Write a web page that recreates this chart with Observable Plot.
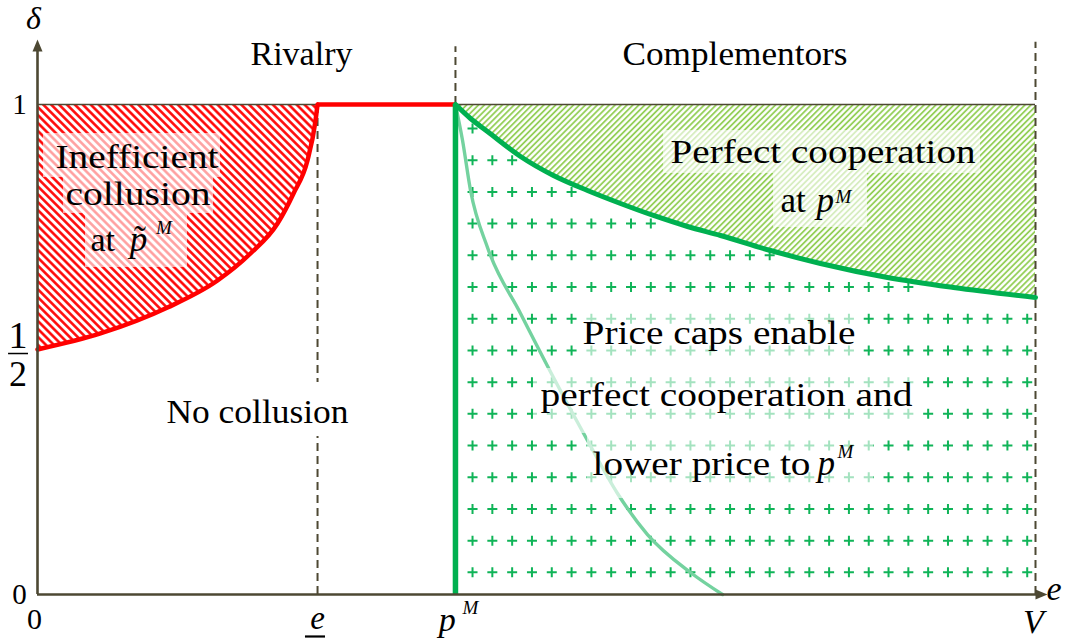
<!DOCTYPE html>
<html>
<head>
<meta charset="utf-8">
<script src="https://cdn.jsdelivr.net/npm/d3@7"></script>
<script src="https://cdn.jsdelivr.net/npm/@observablehq/plot@0.6"></script>
<style>
  body { margin: 0; background: #fff; }
  svg { display: block; }
</style>
</head>
<body>
<div id="chart"></div>
<script>
// ---- thresholds on the e axis (V normalised to 1) ----
const eLow = 0.2806;   // e (underlined)
const pM = 0.4188;     // p^M
const vMax = 1;        // V

// ---- red boundary: inefficient collusion ----
const redE = [0, 0.0631, 0.1303, 0.1804, 0.2134, 0.2405, 0.2565, 0.2705, 0.2786, 0.2806];
const redD = [0.5, 0.5327, 0.5857, 0.6408, 0.6959, 0.7571, 0.8184, 0.8857, 0.9673, 1];

// ---- green boundary: perfect cooperation at p^M ----
const coopE = [0.4188, 0.4339, 0.4509, 0.4840, 0.5170, 0.5511, 0.5842, 0.6172, 0.6513, 0.6844, 0.7345, 0.7846, 0.8517, 0.9178, 1];
const coopD = [1, 0.9714, 0.9449, 0.8939, 0.8551, 0.8245, 0.7980, 0.7735, 0.7510, 0.7327, 0.7020, 0.6755, 0.6469, 0.6265, 0.6061];

// ---- light green curve inside the price-cap region ----
const capE = [0.4188, 0.4259, 0.4339, 0.4509, 0.4840, 0.5170, 0.5511, 0.5812, 0.6112, 0.6543, 0.6864];
const capD = [1, 0.9265, 0.8245, 0.7082, 0.5735, 0.4429, 0.3143, 0.2061, 0.1224, 0.0449, 0];

// ---- tick labels ----
const yTickLabels = ["0", "1"];
const yTickValues = [0, 1];
const xTickLabels = ["0", "e", "p", "V"];
const xTickValues = [0, eLow, pM, vMax];

// ---- texts ----
const regionLabels = ["Rivalry", "Complementors", "Inefficient", "collusion",
  "Perfect cooperation", "No collusion", "Price caps enable", "perfect cooperation and"];

// ---- colours ----
const RED = "#ff0000", GREEN = "#00b050", LIGHTGREEN = "#74d29f", HATCHGREEN = "#8ccc4c";
const AXIS = "#4d4833";
const FONT = "Liberation Serif";

// plus-sign texture grid of the price-cap region (a fill pattern, not a data series)
const plusCols = d3.range(29).map(i => 0.4359 + i * 0.01985);
const plusRows = d3.range(15).map(j => 0.951 - j * 0.0647);
function coopAt(x) {
  const i = d3.bisectLeft(coopE, x);
  if (i <= 0) return coopD[0];
  if (i >= coopE.length) return coopD[coopD.length - 1];
  const t = (x - coopE[i - 1]) / (coopE[i] - coopE[i - 1]);
  return coopD[i - 1] + t * (coopD[i] - coopD[i - 1]);
}
const plusPts = [];
for (const d of plusRows) for (const e of plusCols) if (d < coopAt(e) - 0.01) plusPts.push({e, d});

const red = redE.map((e, i) => ({e, d: redD[i]}));
const coop = coopE.map((e, i) => ({e, d: coopD[i]}));
const cap = capE.map((e, i) => ({e, d: capD[i]}));

const arrowHead = {draw(ctx) { ctx.moveTo(0, -6); ctx.lineTo(5, 6); ctx.lineTo(-5, 6); ctx.closePath(); }};
const plusSym = {draw(ctx) { ctx.moveTo(-5, 0); ctx.lineTo(5, 0); ctx.moveTo(0, -5); ctx.lineTo(0, 5); }};

// label table (anchor position, fitted width)
const labels = [
  {t: regionLabels[0], x: 0.2645, y: 1.0796, w: 102},
  {t: regionLabels[1], x: 0.6989, y: 1.0796, w: 225},
  {t: regionLabels[2], x: 0.0997, y: 0.8694, w: 163},
  {t: regionLabels[3], x: 0.1007, y: 0.7939, w: 145},
  {t: regionLabels[4], x: 0.7871, y: 0.8816, w: 305},
  {t: regionLabels[5], x: 0.2204, y: 0.3490, w: 182},
  {t: regionLabels[6], x: 0.6829, y: 0.5122, w: 273},
  {t: regionLabels[7], x: 0.6904, y: 0.3857, w: 372}
];
const widthOf = new Map(labels.map(l => [l.t, l.w]));
widthOf.set("lower price to", 218);

const txt = (data, o) => Plot.text(data, {fontFamily: FONT, fill: "black", lineAnchor: "bottom", ...o});

const fade = [
  {x1: 0.006, x2: 0.1834, y1: 0.9408, y2: 0.851},
  {x1: 0.026, x2: 0.1764, y1: 0.851, y2: 0.7776},
  {x1: 0.0481, x2: 0.1503, y1: 0.7776, y2: 0.6673},
  {x1: 0.6273, x2: 0.9449, y1: 0.9469, y2: 0.8592},
  {x1: 0.7375, x2: 0.8317, y1: 0.8592, y2: 0.749},
  {x1: 0.5411, x2: 0.8226, y1: 0.5959, y2: 0.4612},
  {x1: 0.497, x2: 0.8848, y1: 0.4612, y2: 0.3286},
  {x1: 0.5511, x2: 0.8377, y1: 0.3286, y2: 0.1959}
];

function draw() {
  const plot = Plot.plot({
    width: 1067, height: 644,
    marginLeft: 37, marginRight: 32, marginTop: 104, marginBottom: 50,
    x: {domain: [0, 1], axis: null},
    y: {domain: [0, 1], axis: null},
    style: {overflow: "visible"},
    marks: [
      Plot.areaY(red, {x: "e", y1: "d", y2: () => 1, fill: "url(#hatchRed)", curve: "monotone-x"}),
      Plot.areaY(coop, {x: "e", y1: "d", y2: () => 1, fill: "url(#hatchGreen)", curve: "monotone-x"}),
      Plot.dot(plusPts, {x: "e", y: "d", symbol: plusSym, stroke: "#10b458", strokeWidth: 2, fill: "none"}),
      Plot.line(cap, {x: "e", y: "d", stroke: LIGHTGREEN, strokeWidth: 3.4, curve: "monotone-x"}),
      Plot.rect(fade, {x1: "x1", x2: "x2", y1: "y1", y2: "y2", fill: "white", fillOpacity: 0.62}),
      Plot.ruleY([1], {x1: 0, x2: vMax, stroke: AXIS, strokeWidth: 1.6}),
      Plot.ruleX([eLow], {y1: 0, y2: 1, stroke: AXIS, strokeWidth: 2, strokeDasharray: "8,5"}),
      Plot.ruleX([pM], {y1: 1, y2: 1.118, stroke: AXIS, strokeWidth: 2, strokeDasharray: "8,5"}),
      Plot.ruleX([vMax], {y1: 0, y2: 1.127, stroke: AXIS, strokeWidth: 2, strokeDasharray: "8,5"}),
      Plot.rect([0], {x1: 0.1232, x2: 0.3186, y1: 0.4327, y2: 0.3224, fill: "white"}),
      Plot.ruleY([1], {x1: eLow, x2: pM, stroke: RED, strokeWidth: 4.5}),
      Plot.line(red, {x: "e", y: "d", stroke: RED, strokeWidth: 4.5, curve: "monotone-x"}),
      Plot.ruleX([pM], {y1: 0, y2: 1, stroke: GREEN, strokeWidth: 5.5}),
      Plot.line(coop, {x: "e", y: "d", stroke: GREEN, strokeWidth: 5, curve: "monotone-x"}),
      Plot.ruleX([0], {y1: 0, y2: 1.12, stroke: AXIS, strokeWidth: 2.6}),
      Plot.ruleY([0], {x1: 0, x2: 1.006, stroke: AXIS, strokeWidth: 2.6}),
      Plot.dot([0], {x: () => 0, y: () => 1.1204, symbol: arrowHead, fill: AXIS, stroke: "none"}),
      Plot.dot([0], {x: () => 1.006, y: () => 0, symbol: arrowHead, fill: AXIS, stroke: "none", rotate: 90}),
      // region labels
      txt(labels, {x: "x", y: "y", text: "t", fontSize: 34, textAnchor: "middle"}),
      // "at p̃^M"
      txt(["at"], {x: () => 0.0531, y: () => 0.702, fontSize: 34, textAnchor: "start"}),
      txt(["p\u0303"], {x: () => 0.0925, y: () => 0.702, fontSize: 35, fontStyle: "italic", textAnchor: "start"}),
      txt(["M"], {x: () => 0.1187, y: () => 0.7367, fontSize: 19, fontStyle: "italic", textAnchor: "start"}),
      // "at p^M"
      txt(["at"], {x: () => 0.7445, y: () => 0.7796, fontSize: 35, textAnchor: "start"}),
      txt(["p"], {x: () => 0.7806, y: () => 0.7796, fontSize: 35, fontStyle: "italic", textAnchor: "start"}),
      txt(["M"], {x: () => 0.7996, y: () => 0.8, fontSize: 19, fontStyle: "italic", textAnchor: "start"}),
      // "lower price to p^M"
      txt(["lower price to"], {x: () => 0.5561, y: () => 0.2429, fontSize: 33, textAnchor: "start"}),
      txt(["p"], {x: () => 0.7816, y: () => 0.2429, fontSize: 35, fontStyle: "italic", textAnchor: "start"}),
      txt(["M"], {x: () => 0.8016, y: () => 0.2776, fontSize: 19, fontStyle: "italic", textAnchor: "start"}),
      // y tick labels
      txt(yTickValues, {x: () => -0.018, y: d => d, text: (d, i) => yTickLabels[i], fontSize: 29, textAnchor: "middle", lineAnchor: "middle"}),
      txt(["1"], {x: () => -0.0195, y: () => 0.504, fontSize: 38, textAnchor: "middle"}),
      txt(["2"], {x: () => -0.0195, y: () => 0.4265, fontSize: 36, textAnchor: "middle"}),
      Plot.ruleY([0.4918], {x1: -0.029, x2: -0.009, stroke: "black", strokeWidth: 1.5}),
      txt(["δ"], {x: () => -0.004, y: () => 1.155, fontSize: 32, fontStyle: "italic", textAnchor: "middle"}),
      // x tick labels
      txt([xTickValues[0]], {x: d => d - 0.003, y: () => -0.0694, text: () => xTickLabels[0], fontSize: 30, textAnchor: "middle"}),
      txt([xTickValues[1]], {x: d => d, y: () => -0.0694, text: () => xTickLabels[1], fontSize: 33, fontStyle: "italic", textAnchor: "middle"}),
      Plot.ruleY([-0.0857], {x1: 0.2685, x2: 0.2886, stroke: "black", strokeWidth: 2.2}),
      txt([xTickValues[2]], {x: d => d - 0.0168, y: () => -0.0735, text: () => xTickLabels[2], fontSize: 34, fontStyle: "italic", textAnchor: "start"}),
      txt(["M"], {x: () => 0.4259, y: () => -0.0408, fontSize: 19, fontStyle: "italic", textAnchor: "start"}),
      txt([xTickValues[3]], {x: d => d - 0.002, y: () => -0.0776, text: () => xTickLabels[3], fontSize: 34, fontStyle: "italic", textAnchor: "middle"}),
      txt(["e"], {x: () => 1.011, y: () => -0.0122, fontSize: 34, fontStyle: "italic", textAnchor: "start"})
    ]
  });

  // hatch patterns
  const defs = d3.select(plot).insert("defs", ":first-child");
  const pr = defs.append("pattern").attr("id", "hatchRed").attr("patternUnits", "userSpaceOnUse")
    .attr("width", 5.6).attr("height", 5.6).attr("patternTransform", "rotate(-45)");
  pr.append("rect").attr("width", 5.6).attr("height", 5.6).attr("fill", "white");
  pr.append("line").attr("x1", 1.4).attr("x2", 1.4).attr("y1", -1).attr("y2", 7).attr("stroke", RED).attr("stroke-width", 2.5);
  const pg = defs.append("pattern").attr("id", "hatchGreen").attr("patternUnits", "userSpaceOnUse")
    .attr("width", 4.2).attr("height", 4.2).attr("patternTransform", "rotate(45)");
  pg.append("rect").attr("width", 4.2).attr("height", 4.2).attr("fill", "white");
  pg.append("line").attr("x1", 1).attr("x2", 1).attr("y1", -1).attr("y2", 6).attr("stroke", HATCHGREEN).attr("stroke-width", 1.7);

  const host = document.getElementById("chart");
  host.replaceChildren(plot);

  // stretch labels horizontally to the reference widths (keeps real text)
  d3.select(plot).selectAll("text").each(function() {
    const w = widthOf.get(this.textContent);
    if (!w) return;
    const len = this.getComputedTextLength();
    if (!(len > 0)) return;
    const tr = this.getAttribute("transform") || "";
    const x = +this.getAttribute("x") || 0, y = +this.getAttribute("y") || 0;
    this.setAttribute("transform", `${tr} translate(${x},${y}) scale(${w / len},1) translate(${-x},${-y})`);
  });
}

draw();
if (document.fonts) {
  Promise.all([
    document.fonts.load('34px "Liberation Serif"'),
    document.fonts.load('italic 34px "Liberation Serif"')
  ]).then(draw, () => {});
  document.fonts.ready.then(draw);
}
</script>
</body>
</html>
